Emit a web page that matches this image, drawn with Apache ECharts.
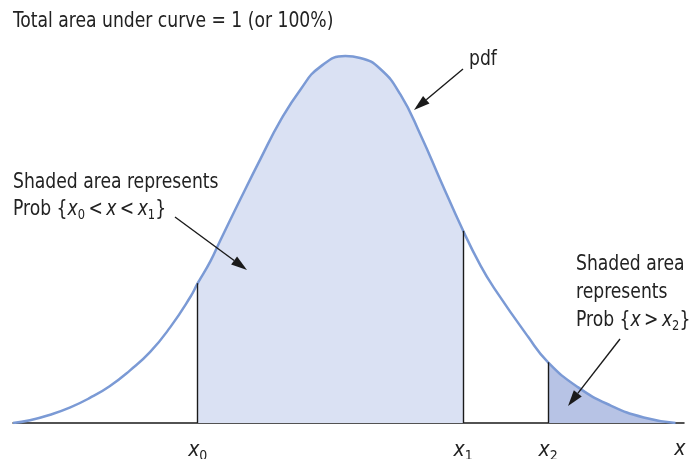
<!DOCTYPE html>
<html>
<head>
<meta charset="utf-8">
<script src="https://cdn.jsdelivr.net/npm/echarts@6/dist/echarts.min.js"></script>
<style>
  html, body { margin: 0; padding: 0; background: #fff; }
  #chart { width: 698px; height: 459px; }
</style>
</head>
<body>
<div id="chart"></div>
<script>
// x in standard-deviation units, y = density
const xVals = [-3.13, -2.97, -2.78, -2.59, -2.41, -2.22, -2.03, -1.84, -1.65, -1.46, -1.39, -1.27, -1.18, -0.99, -0.80, -0.61, -0.42, -0.24, 0.00,
  0.14, 0.33, 0.52, 0.71, 0.90, 1.11, 1.27, 1.40, 1.72, 1.91, 2.19, 2.50, 2.81, 3.11]
const pdfVals = [0.000, 0.003, 0.009, 0.017, 0.027, 0.040, 0.057, 0.077, 0.104, 0.137, 0.152, 0.176, 0.198, 0.243, 0.287, 0.329, 0.363, 0.387, 0.399,
  0.397, 0.385, 0.357, 0.313, 0.263, 0.209, 0.172, 0.147, 0.094, 0.066, 0.039, 0.019, 0.006, 0.000]

const X0 = -1.39
const X1 = 1.11
const X2 = 1.91
const xEnd = 3.15
const tickNames = ['0', '1', '2', '']

const FONT = '"DejaVu Sans Condensed", "DejaVu Sans", sans-serif'
const INK = '#222'
const CURVE = '#7b9ad5'
const LIGHT = '#dae1f3'
const DARK = '#b7c3e5'
const TS = '\u2009'

const points = xVals.map((x, i) => [x, pdfVals[i]])
const heightAt = (x) => pdfVals[xVals.indexOf(x)]
const midPts = points.filter(p => p[0] >= X0 && p[0] <= X1)
const tailPts = points.filter(p => p[0] >= X2)

// arrow = line + filled head
function arrow(x1, y1, x2, y2) {
  const ang = Math.atan2(y2 - y1, x2 - x1)
  const len = 16, w = 5
  const bx = x2 - len * Math.cos(ang), by = y2 - len * Math.sin(ang)
  const nx = -Math.sin(ang) * w, ny = Math.cos(ang) * w
  return [
    { type: 'line', z: 100, shape: { x1, y1, x2: bx, y2: by }, style: { stroke: '#1a1a1a', lineWidth: 1.4 } },
    { type: 'polygon', z: 100, shape: { points: [[x2, y2], [bx + nx, by + ny], [bx - nx, by - ny]] }, style: { fill: '#1a1a1a' } }
  ]
}

const richText = {
  n: { fontFamily: FONT, fontSize: 21, color: INK },
  i: { fontFamily: FONT, fontSize: 21, fontStyle: 'italic', color: INK },
  s: { fontFamily: FONT, fontSize: 14, color: INK, padding: [10, 0, 0, 0] }
}

// condensed look: squeeze the text a little horizontally
function label(text, x, y) {
  return {
    type: 'text', x, y, z: 100, scaleX: 0.91,
    style: { text, font: '21px ' + FONT, fill: INK, textVerticalAlign: 'top', rich: richText }
  }
}

const curveSeries = (data, extra) => Object.assign({
  type: 'line', data, smooth: 0.5, symbol: 'none'
}, extra)

const chart = echarts.init(document.getElementById('chart'))

const option = {
  animation: false,
  grid: { left: 13, right: 14, top: 0, bottom: 36, containLabel: false, outerBoundsMode: 'none' },
  xAxis: {
    type: 'value',
    min: -3.13,
    max: 3.19,
    splitLine: { show: false },
    axisLine: { onZero: false, lineStyle: { color: '#1a1a1a', width: 1.5 } },
    axisTick: { show: false },
    axisLabel: {
      customValues: [X0, X1, X2, xEnd],
      margin: 16,
      formatter: (v) => {
        const k = [X0, X1, X2, xEnd].indexOf(v)
        return k < 3 ? '{i|x}{s|' + tickNames[k] + '}' : '{i|x}'
      },
      rich: richText
    }
  },
  yAxis: {
    type: 'value',
    min: 0,
    max: 0.46,
    show: false
  },
  series: [
    curveSeries(midPts, { lineStyle: { width: 0 }, areaStyle: { color: LIGHT, opacity: 1 } }),
    curveSeries(tailPts, { lineStyle: { width: 0 }, areaStyle: { color: DARK, opacity: 1 } }),
    curveSeries(points, {
      lineStyle: { color: CURVE, width: 2.5 },
      markLine: {
        silent: true,
        symbol: 'none',
        label: { show: false },
        lineStyle: { color: '#1a1a1a', width: 1.4, type: 'solid' },
        data: [X0, X1, X2].map(x => [{ coord: [x, 0] }, { coord: [x, heightAt(x)] }])
      }
    })
  ],
  graphic: [
    label('Total area under curve = 1 (or 100%)', 13, 11),
    label('pdf', 469, 49),
    label('Shaded area represents', 13, 172),
    label('Prob {{i|x}{s|0}{n|' + TS + '<' + TS + '}{i|x}{n|' + TS + '<' + TS + '}{i|x}{s|1}}', 13, 198),
    label('Shaded area', 576, 254),
    label('represents', 576, 282),
    label('Prob {{i|x}{n|' + TS + '>' + TS + '}{i|x}{s|2}}', 576, 309),
    ...arrow(463, 69, 414, 110),
    ...arrow(175, 217, 247, 270),
    ...arrow(620, 339, 568, 406)
  ]
}

chart.setOption(option)
</script>
</body>
</html>
